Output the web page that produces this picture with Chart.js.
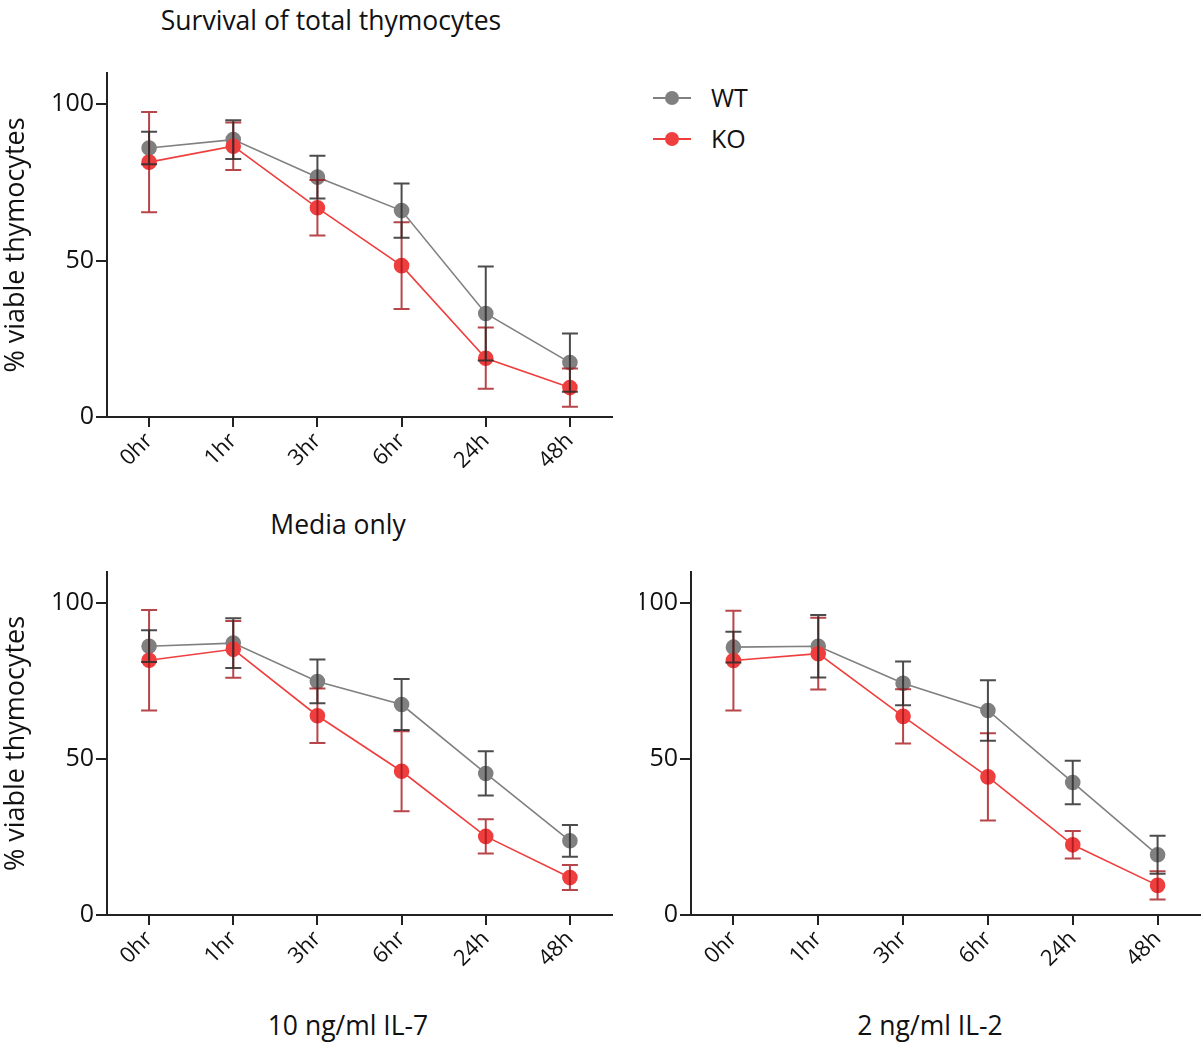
<!DOCTYPE html>
<html>
<head>
<meta charset="utf-8">
<script src="https://cdn.jsdelivr.net/npm/chart.js@4/dist/chart.umd.min.js"></script>
<style>
  body { margin: 0; background: #fff; font-family: "Open Sans", sans-serif; color: #111; }
  #wrap { position: relative; width: 1201px; height: 1045px; overflow: hidden; }
  canvas { position: absolute; }
  .ttl { position: absolute; font-size: 26.5px; line-height: 30px; white-space: nowrap; transform: translateX(-50%); }
  .leg { position: absolute; left: 653px; height: 20px; }
  .leg .ln { position: absolute; left: 0; top: 9px; width: 38px; height: 2px; }
  .leg .dot { position: absolute; left: 12px; top: 3px; width: 14px; height: 14px; border-radius: 50%; }
  .leg .tx { position: absolute; left: 58px; top: -9px; font-size: 25px; line-height: 36px; }
</style>
</head>
<body>
<div id="wrap">
  <div class="ttl" style="left:331px; top:5px;">Survival of total thymocytes</div>
  <div class="ttl" style="left:338px; top:509px;">Media only</div>
  <div class="ttl" style="left:348px; top:1010px;">10 ng/ml IL-7</div>
  <div class="ttl" style="left:930px; top:1010px;">2 ng/ml IL-2</div>

  <div class="leg" style="top:88px;"><div class="ln" style="background:#808080"></div><div class="dot" style="background:#808080"></div><div class="tx">WT</div></div>
  <div class="leg" style="top:129px;"><div class="ln" style="background:#ef3e3e"></div><div class="dot" style="background:#ef3e3e"></div><div class="tx">KO</div></div>

  <canvas id="mediaChart" width="625" height="440" style="left:0; top:60px;"></canvas>
  <canvas id="il7Chart" width="625" height="440" style="left:0; top:560px;"></canvas>
  <canvas id="il2Chart" width="561" height="440" style="left:640px; top:560px;"></canvas>
</div>

<script>
/* ========= DATA ========= */
const timepoints = ["0hr", "1hr", "3hr", "6hr", "24h", "48h"];
const yTicks = [0, 50, 100];

const mediaWT    = [86.0, 88.7, 76.7, 66.0, 33.1, 17.4];
const mediaWTerr = [5.2, 6.2, 6.8, 8.7, 15.0, 9.3];
const mediaKO    = [81.5, 86.6, 66.9, 48.4, 18.8, 9.4];
const mediaKOerr = [16.0, 7.6, 8.9, 13.9, 9.8, 6.1];

const il7WT    = [86.2, 87.2, 74.9, 67.5, 45.4, 23.8];
const il7WTerr = [5.1, 8.0, 7.0, 8.2, 7.1, 5.1];
const il7KO    = [81.7, 85.2, 63.9, 46.1, 25.2, 12.0];
const il7KOerr = [16.1, 9.1, 8.7, 12.8, 5.5, 4.0];

const il2WT    = [85.9, 86.2, 74.3, 65.6, 42.5, 19.3];
const il2WTerr = [4.9, 10.0, 7.0, 9.7, 7.0, 6.1];
const il2KO    = [81.6, 83.8, 63.7, 44.3, 22.5, 9.5];
const il2KOerr = [16.0, 11.5, 8.7, 14.0, 4.4, 4.5];

/* ========= STYLE ========= */
const WT_COLOR = "#808080";
const KO_COLOR = "#ef3e3e";
const WT_BAR = "rgba(45,45,45,0.85)";
const KO_BAR = "rgba(165,22,28,0.8)";
const AXIS = "#222";
const FONT = "'Open Sans', sans-serif";

/* ========= ERROR BARS ========= */
const errorBars = {
  id: "errorBars",
  afterDatasetsDraw(chart) {
    const ctx = chart.ctx;
    const y = chart.scales.y;
    // WT first, KO on top
    [...chart.data.datasets].map((ds, i) => [ds, i]).reverse().forEach(([ds, i]) => {
      if (!ds.errors) return;
      const meta = chart.getDatasetMeta(i);
      ctx.save();
      ctx.strokeStyle = ds.barColor;
      ctx.lineWidth = 2;
      meta.data.forEach((pt, j) => {
        const v = ds.data[j], e = ds.errors[j];
        const top = y.getPixelForValue(v + e);
        const bot = y.getPixelForValue(v - e);
        ctx.beginPath();
        ctx.moveTo(pt.x, top); ctx.lineTo(pt.x, bot);
        ctx.moveTo(pt.x - 8, top); ctx.lineTo(pt.x + 8, top);
        ctx.moveTo(pt.x - 8, bot); ctx.lineTo(pt.x + 8, bot);
        ctx.stroke();
      });
      ctx.restore();
    });
  }
};

function series(label, data, errors, color, barColor, order) {
  return {
    label, data, errors, barColor, order,
    borderColor: color,
    backgroundColor: color,
    pointBackgroundColor: color,
    pointBorderColor: color,
    borderWidth: 1.6,
    pointRadius: 7,
    pointHoverRadius: 7,
    tension: 0,
    clip: false
  };
}

function makeChart(id, wt, wtErr, ko, koErr, opts) {
  return new Chart(document.getElementById(id), {
    type: "line",
    data: {
      labels: timepoints,
      datasets: [
        series("WT", wt, wtErr, WT_COLOR, WT_BAR, 1),
        series("KO", ko, koErr, KO_COLOR, KO_BAR, 0)
      ]
    },
    options: {
      responsive: false,
      animation: false,
      devicePixelRatio: 1,
      layout: { autoPadding: false, padding: { top: opts.padTop, right: opts.padRight, left: 0, bottom: 0 } },
      plugins: { legend: { display: false }, tooltip: { enabled: false } },
      scales: {
        x: {
          offset: true,
          grid: { display: true, drawOnChartArea: false, drawTicks: true, tickLength: 10, color: AXIS, lineWidth: 2, offset: false },
          border: { display: true, color: AXIS, width: 2 },
          ticks: { color: "#111", font: { family: FONT, size: 22 }, minRotation: 45, maxRotation: 45, padding: 1, autoSkip: false },
          afterFit(s) { s.height = opts.xHeight; s.paddingLeft = 0; s.paddingRight = 0; }
        },
        y: {
          min: 0,
          max: 110,
          afterBuildTicks(s) { s.ticks = yTicks.map(v => ({ value: v })); },
          grid: { display: true, drawOnChartArea: false, drawTicks: true, tickLength: 11, color: AXIS, lineWidth: 2 },
          border: { display: true, color: AXIS, width: 2 },
          ticks: { color: "#111", font: { family: FONT, size: 25 }, padding: 2 },
          title: {
            display: opts.yTitle,
            text: "% viable thymocytes",
            color: "#111",
            font: { family: FONT, size: 27 },
            padding: { top: 0, bottom: 0 }
          },
          afterFit(s) { s.width = opts.yWidth; s.paddingTop = 0; s.paddingBottom = 0; }
        }
      }
    },
    plugins: [errorBars]
  });
}

/* ========= LOAD ========= */
window.onload = () => {
  makeChart("mediaChart", mediaWT, mediaWTerr, mediaKO, mediaKOerr,
    { padTop: 13, padRight: 13, xHeight: 83, yWidth: 107, yTitle: true });
  makeChart("il7Chart", il7WT, il7WTerr, il7KO, il7KOerr,
    { padTop: 12, padRight: 13, xHeight: 85, yWidth: 107, yTitle: true });
  makeChart("il2Chart", il2WT, il2WTerr, il2KO, il2KOerr,
    { padTop: 12, padRight: 1, xHeight: 85, yWidth: 51, yTitle: false });
};
</script>
</body>
</html>
